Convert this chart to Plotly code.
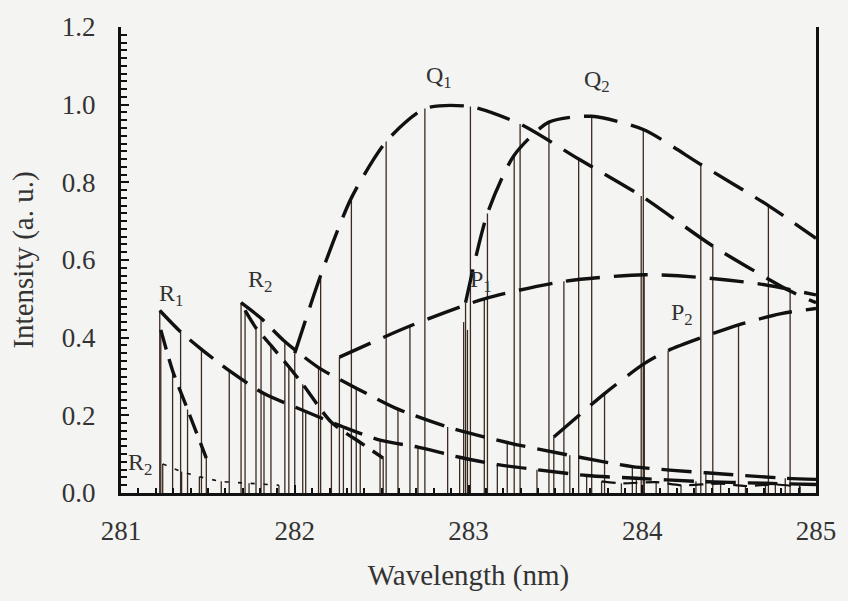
import plotly.graph_objects as go

# ---- Line positions (nm) and relative intensities, by branch ----
R1_WL = [281.223, 281.343, 281.463, 281.623, 281.823, 282.063, 282.280, 282.491,
         282.709, 282.949, 283.166, 283.394, 283.680, 283.966, 284.309, 284.709]
R1_I = [0.47, 0.415, 0.37, 0.315, 0.256, 0.21, 0.17, 0.136,
        0.118, 0.092, 0.073, 0.06, 0.045, 0.038, 0.03, 0.025]
R1_TAIL_WL = [285.0]
R1_TAIL_I = [0.022]

R2_WL = [281.691, 281.806, 281.943, 282.137, 282.354, 282.594, 282.880, 283.223,
         283.583, 283.943, 284.366, 284.823]
R2_I = [0.49, 0.45, 0.39, 0.323, 0.27, 0.216, 0.17, 0.13, 0.097, 0.068, 0.052, 0.038]
R2_TAIL_WL = [285.0]
R2_TAIL_I = [0.035]

# satellite lines running steeply down from each R head
R1S_WL = [281.229, 281.297, 281.383, 281.491]
R1S_I = [0.42, 0.315, 0.215, 0.09]
R2S_WL = [281.714, 281.777, 281.863, 281.966, 282.046, 282.211, 282.377, 282.509]
R2S_I = [0.47, 0.425, 0.38, 0.325, 0.28, 0.182, 0.13, 0.09]

# weak low-lying branch near the R heads
R2W_WL = [281.240, 281.349, 281.451, 281.577, 281.737, 281.909]
R2W_I = [0.075, 0.055, 0.042, 0.03, 0.025, 0.02]

Q1_WL = [282.000, 282.149, 282.326, 282.526, 282.749, 283.011, 283.297, 283.634,
         283.994, 284.406, 284.851]
Q1_I = [0.36, 0.56, 0.76, 0.905, 0.99, 0.995, 0.95, 0.86, 0.765, 0.636, 0.52]
Q1_TAIL_WL = [285.0]
Q1_TAIL_I = [0.49]

Q2_WL = [282.983, 283.109, 283.263, 283.463, 283.709, 284.006, 284.337, 284.726]
Q2_I = [0.49, 0.72, 0.87, 0.955, 0.97, 0.936, 0.846, 0.74]
Q2_TAIL_WL = [285.0]
Q2_TAIL_I = [0.656]

P1_WL = [282.257, 282.663, 283.091, 283.549, 284.011]
P1_I = [0.35, 0.43, 0.50, 0.545, 0.562]
P1_TAIL_WL = [284.309, 284.680, 285.0]
P1_TAIL_I = [0.556, 0.538, 0.51]

P2_WL = [283.491, 283.783, 284.011, 284.149, 284.554]
P2_I = [0.144, 0.256, 0.333, 0.367, 0.433]
P2_TAIL_WL = [284.800, 285.0]
P2_TAIL_I = [0.462, 0.475]

# blended lines at the Q2 origin and weak satellites at long wavelength
BLEND_WL = [282.972, 282.994]
BLEND_I = [0.44, 0.42]
SAT_WL = [283.766, 283.880, 284.080, 284.223, 284.451, 284.594, 284.766, 284.909]
SAT_I = [0.03, 0.025, 0.028, 0.02, 0.024, 0.018, 0.022, 0.016]

# ---- styling ----
STICK_COLOR = "#3b2a20"
ENV_COLOR = "#111111"
FONT = "Liberation Serif, Times New Roman, serif"
TEXT_COLOR = "#333333"

fig = go.Figure()


def add_sticks(wl, inten, width=1.3):
    xs, ys = [], []
    for w, v in zip(wl, inten):
        xs += [w, w, None]
        ys += [0, v, None]
    fig.add_trace(go.Scatter(x=xs, y=ys, mode="lines", hoverinfo="skip",
                             line=dict(color=STICK_COLOR, width=width),
                             showlegend=False))


def add_envelope(wl, inten, width=3.4, dash="34px,14px", smooth=0.7):
    fig.add_trace(go.Scatter(x=wl, y=inten, mode="lines", hoverinfo="skip",
                             line=dict(color=ENV_COLOR, width=width, dash=dash,
                                       shape="spline", smoothing=smooth),
                             showlegend=False))


for wl, inten in [(R1_WL, R1_I), (R2_WL, R2_I), (R1S_WL, R1S_I), (R2S_WL, R2S_I),
                  (R2W_WL, R2W_I), (Q1_WL, Q1_I), (Q2_WL, Q2_I), (P1_WL, P1_I),
                  (P2_WL, P2_I), (BLEND_WL, BLEND_I), (SAT_WL, SAT_I)]:
    add_sticks(wl, inten)

add_envelope(R1_WL + R1_TAIL_WL, R1_I + R1_TAIL_I, dash="30px,12px")
add_envelope(R2_WL + R2_TAIL_WL, R2_I + R2_TAIL_I, dash="30px,12px")
add_envelope(R1S_WL, R1S_I, dash="20px,10px")
add_envelope(R2S_WL, R2S_I, dash="22px,10px")
add_envelope(R2W_WL, R2W_I, width=1.6, dash="4px,9px")
add_envelope(Q1_WL + Q1_TAIL_WL, Q1_I + Q1_TAIL_I)
add_envelope(Q2_WL + Q2_TAIL_WL, Q2_I + Q2_TAIL_I)
add_envelope(P1_WL + P1_TAIL_WL, P1_I + P1_TAIL_I)
add_envelope(P2_WL + P2_TAIL_WL, P2_I + P2_TAIL_I)
add_envelope(SAT_WL, SAT_I, width=2.2, dash="14px,8px")

# branch labels
LABELS = [("R<sub>1</sub>", 281.29, 0.51), ("R<sub>2</sub>", 281.80, 0.545),
          ("Q<sub>1</sub>", 282.83, 1.07), ("Q<sub>2</sub>", 283.74, 1.06),
          ("P<sub>1</sub>", 283.07, 0.545), ("P<sub>2</sub>", 284.23, 0.46),
          ("R<sub>2</sub>", 281.11, 0.075)]
for text, x, y in LABELS:
    fig.add_annotation(x=x, y=y, text=text, showarrow=False,
                       font=dict(family=FONT, size=24, color=TEXT_COLOR))

fig.update_layout(
    width=848, height=601,
    margin=dict(l=121, r=27, t=25, b=108),
    paper_bgcolor="#f4f4f2", plot_bgcolor="#f4f4f2",
    font=dict(family=FONT, size=27, color=TEXT_COLOR),
)
fig.update_xaxes(
    range=[281, 285], tickvals=[281, 282, 283, 284, 285],
    ticks="inside", ticklen=8, tickwidth=2, tickcolor="#111",
    minor=dict(ticks="inside", dtick=0.1, ticklen=5, tickwidth=1.5, tickcolor="#111"),
    showline=True, linewidth=3, linecolor="#111", mirror=False,
    showgrid=False, zeroline=False, ticklabelstandoff=12,
    title=dict(text="Wavelength (nm)", standoff=20, font=dict(size=29)),
)
fig.update_yaxes(
    range=[0, 1.2], tickvals=[0, 0.2, 0.4, 0.6, 0.8, 1.0, 1.2], tickformat=".1f",
    ticks="inside", ticklen=8, tickwidth=2, tickcolor="#111",
    minor=dict(ticks="inside", dtick=0.02, ticklen=6, tickwidth=1.5, tickcolor="#111"),
    showline=True, linewidth=3, linecolor="#111", mirror=True,
    showgrid=False, zeroline=False, ticklabelstandoff=17,
    title=dict(text="Intensity (a. u.)", standoff=20, font=dict(size=29)),
)

fig.write_html("out.html")
